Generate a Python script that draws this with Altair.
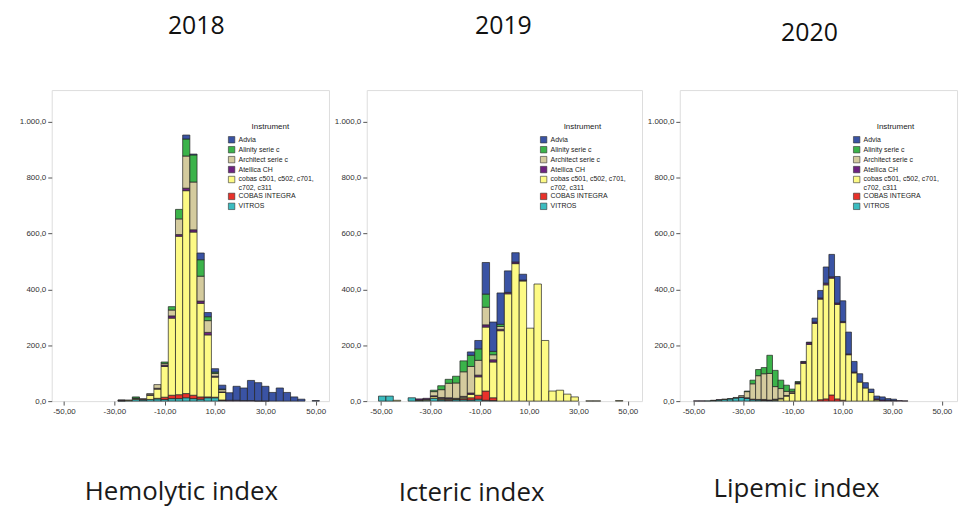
import altair as alt
import pandas as pd

INSTRUMENTS = ["Advia", "Alinity serie c", "Architect serie c", "Atellica CH",
               "cobas c501, c502, c701, c702, c311", "COBAS INTEGRA", "VITROS"]
COLORS = ["#3a53a4", "#3bb34a", "#d4cb9e", "#6e2281", "#fdfa85", "#e8312a", "#3bbcc0"]

# ---------------- 2018 - Hemolytic index ----------------
H_BIN_WIDTH = 2.857
H_EDGES = [-28.57, -25.71, -22.86, -20.0, -17.14, -14.29, -11.43, -8.57, -5.71, -2.86,
           0.0, 2.86, 5.71, 8.57, 11.43, 14.29, 17.14, 20.0, 22.86, 25.71,
           28.57, 31.43, 34.29, 37.14, 40.0, 42.86, 45.71, 48.57]
H_ADVIA = [0, 0, 0, 0, 0, 0, 0, 0, 0, 14, 3, 24, 15, 12, 14, 27, 50, 45, 72, 65, 52, 31, 47, 31, 15, 7, 0, 2]
H_ALINITY = [0, 0, 4, 0, 0, 0, 5, 12, 34, 61, 97, 59, 14, 5, 2, 0, 0, 0, 0, 0, 0, 0, 0, 0, 0, 0, 0, 0]
H_ARCHITECT = [0, 0, 2, 0, 4, 13, 6, 21, 56, 115, 171, 89, 42, 10, 8, 0, 0, 0, 0, 0, 0, 0, 0, 0, 0, 0, 0, 0]
H_ATELLICA = [1, 0, 0, 1, 2, 3, 5, 8, 6, 9, 8, 8, 9, 3, 2, 3, 3, 2, 2, 1, 1, 0, 0, 0, 0, 0, 0, 0]
H_COBAS = [2, 2, 3, 3, 15, 33, 110, 276, 567, 726, 584, 335, 222, 72, 27, 0, 0, 0, 0, 0, 0, 0, 0, 0, 0, 0, 0, 0]
H_INTEGRA = [0, 0, 0, 0, 0, 2, 8, 12, 14, 15, 12, 8, 3, 2, 1, 0, 0, 0, 0, 0, 0, 0, 0, 0, 0, 0, 0, 0]
H_VITROS = [1, 2, 6, 4, 6, 8, 6, 9, 9, 12, 9, 7, 12, 12, 3, 0, 0, 0, 0, 0, 0, 0, 0, 0, 0, 0, 0, 0]

# ---------------- 2019 - Icteric index ----------------
I_BIN_WIDTH = 3.0
I_EDGES = [-51, -48, -45, -42, -39, -36, -33, -30, -27, -24, -21, -18, -15, -12, -9, -6, -3,
           0, 3, 6, 9, 12, 15, 18, 21, 24, 27, 30, 33, 36, 39, 42, 45]
I_ADVIA = [0, 0, 0, 0, 0, 0, 0, 0, 0, 0, 0, 0, 12, 30, 113, 105, 112, 77, 33, 21, 0, 0, 0, 0, 0, 0, 0, 0, 0, 0, 0, 0, 0]
I_ALINITY = [0, 0, 0, 0, 0, 0, 0, 5, 14, 14, 24, 39, 40, 41, 47, 12, 8, 0, 0, 0, 0, 0, 0, 0, 0, 0, 0, 0, 0, 0, 0, 0, 0]
I_ARCHITECT = [0, 0, 0, 0, 0, 0, 0, 15, 28, 52, 55, 88, 95, 53, 63, 18, 10, 0, 0, 0, 0, 0, 0, 0, 0, 0, 0, 0, 0, 0, 0, 0, 0]
I_ATELLICA = [0, 0, 0, 0, 0, 4, 4, 3, 3, 3, 2, 3, 5, 6, 8, 8, 5, 5, 6, 3, 0, 0, 0, 0, 0, 0, 0, 0, 0, 0, 0, 0, 0]
I_COBAS = [0, 0, 3, 0, 0, 2, 3, 6, 4, 3, 2, 5, 12, 66, 229, 128, 252, 384, 492, 430, 261, 419, 217, 36, 39, 25, 15, 0, 1, 1, 0, 0, 2]
I_INTEGRA = [0, 0, 0, 0, 0, 0, 0, 0, 2, 3, 1, 4, 8, 14, 33, 10, 0, 0, 0, 0, 0, 0, 0, 0, 0, 0, 0, 0, 0, 0, 0, 0, 0]
I_VITROS = [18, 18, 0, 0, 12, 2, 3, 10, 4, 3, 5, 5, 4, 7, 3, 2, 0, 0, 0, 0, 0, 0, 0, 0, 0, 0, 0, 0, 0, 0, 0, 0, 0]

# ---------------- 2020 - Lipemic index ----------------
L_BIN_WIDTH = 2.27
L_EDGES = [-49.94, -47.67, -45.4, -43.13, -40.86, -38.59, -36.32, -34.05, -31.78, -29.51,
           -27.24, -24.97, -22.7, -20.43, -18.16, -15.89, -13.62, -11.35, -9.08, -6.81,
           -4.54, -2.27, 0.0, 2.27, 4.54, 6.81, 9.08, 11.35, 13.62, 15.89,
           18.16, 20.43, 22.7, 24.97, 27.24, 29.51, 31.78, 34.05]
L_ADVIA = [0, 0, 0, 0, 0, 0, 0, 0, 0, 0, 0, 0, 0, 0, 0, 0, 0, 0, 0, 2,
           2, 14, 27, 58, 80, 95, 74, 78, 38, 30, 19, 12, 10, 11, 6, 5, 0, 0]
L_ALINITY = [0, 0, 0, 0, 0, 0, 0, 0, 0, 2, 13, 22, 22, 65, 58, 30, 22, 8, 3, 0,
             0, 0, 0, 0, 0, 0, 0, 0, 0, 0, 0, 0, 0, 0, 0, 0, 0, 0]
L_ARCHITECT = [0, 0, 0, 0, 0, 0, 1, 2, 5, 22, 55, 85, 92, 95, 45, 35, 15, 5, 2, 0,
               0, 0, 0, 0, 0, 0, 0, 0, 0, 0, 0, 0, 0, 0, 0, 0, 0, 0]
L_ATELLICA = [1, 1, 0, 0, 1, 0, 0, 0, 1, 2, 2, 2, 2, 2, 2, 2, 2, 2, 3, 5,
              6, 5, 4, 6, 5, 5, 4, 3, 3, 0, 0, 0, 4, 4, 3, 2, 2, 1]
L_COBAS = [0, 0, 0, 1, 0, 1, 0, 0, 0, 0, 0, 0, 0, 0, 3, 8, 18, 28, 62, 135,
           203, 278, 360, 408, 418, 338, 278, 166, 101, 68, 47, 31, 4, 0, 0, 0, 0, 0]
L_INTEGRA = [0, 0, 0, 0, 0, 0, 0, 0, 0, 0, 0, 0, 1, 0, 0, 0, 0, 0, 0, 0,
             0, 0, 5, 8, 22, 8, 3, 0, 0, 0, 0, 0, 0, 0, 0, 0, 0, 0]
L_VITROS = [0, 0, 1, 2, 4, 6, 8, 11, 14, 10, 5, 4, 3, 2, 2, 0, 0, 0, 0, 0,
            0, 0, 0, 0, 0, 0, 0, 0, 0, 0, 0, 0, 0, 0, 0, 0, 0, 0]

TITLES = ["2018", "2019", "2020"]
X_TITLES = ["Hemolytic index", "Icteric index", "Lipemic index"]
X_TICKS = [-50, -30, -10, 10, 30, 50]
Y_TICKS = [0, 200, 400, 600, 800, 1000]


def build_df(edges, width, series):
    """Long table with stacked bottoms/tops; VITROS at the bottom, Advia on top."""
    rows = []
    for i, e in enumerate(edges):
        base = 0
        for inst, counts in reversed(list(zip(INSTRUMENTS, series))):
            c = counts[i]
            if c > 0:
                rows.append({"start": e, "end": round(e + width, 3), "instrument": inst,
                             "count": c, "bottom": base, "top": base + c})
            base += c
    return pd.DataFrame(rows)


Y_LABEL = "replace(replace(replace(format(datum.value, ',.1f'), ',', '#'), '.', ','), '#', '.')"
X_LABEL = "(datum.value < 0 ? '-' : '') + replace(format(abs(datum.value), '.2f'), '.', ',')"
LEG_LABEL = ("datum.label == 'cobas c501, c502, c701, c702, c311' ? "
             "['cobas c501, c502, c701,', 'c702, c311'] : datum.label")


def panel(df, domain, width, title, t_offset, t_dx, xtitle, xt_x, xt_y, leg_x, leg_y):
    return alt.Chart(df).mark_bar(stroke="#222222", strokeWidth=0.7).encode(
        x=alt.X("start:Q",
                scale=alt.Scale(domain=domain, nice=False, zero=False),
                axis=alt.Axis(values=X_TICKS, labelExpr=X_LABEL, title=xtitle,
                              titleX=xt_x, titleY=xt_y, titleBaseline="alphabetic",
                              titleFont="Open Sans", titleFontSize=26, titleFontWeight="normal",
                              titleColor="#1a1a1a", domain=False, grid=False, tickSize=4,
                              tickColor="#555555", labelFont="Liberation Sans", labelFontSize=8,
                              labelColor="#333333", labelPadding=2)),
        x2="end",
        y=alt.Y("bottom:Q",
                scale=alt.Scale(domain=[0, 1113], nice=False),
                axis=alt.Axis(values=Y_TICKS, labelExpr=Y_LABEL, title=None, domain=False,
                              grid=False, tickSize=4, tickColor="#555555",
                              labelFont="Liberation Sans", labelFontSize=8,
                              labelColor="#333333", labelPadding=2)),
        y2="top",
        color=alt.Color("instrument:N",
                        scale=alt.Scale(domain=INSTRUMENTS, range=COLORS),
                        legend=alt.Legend(title="Instrument", orient="none",
                                          legendX=leg_x, legendY=leg_y, padding=0,
                                          titleFont="Liberation Sans", titleFontSize=8,
                                          titleFontWeight="normal", titleColor="#222222",
                                          titleAnchor="middle", titlePadding=5,
                                          labelFont="Liberation Sans", labelFontSize=7,
                                          labelColor="#222222", labelExpr=LEG_LABEL,
                                          labelOffset=3, labelLimit=200,
                                          symbolType="square", symbolSize=42,
                                          symbolStrokeColor="#333333", symbolStrokeWidth=0.6,
                                          rowPadding=0)),
        tooltip=["instrument:N", "count:Q"],
    ).properties(
        width=width, height=313,
        title=alt.TitleParams(title, font="Open Sans", fontSize=25, fontWeight="normal",
                              color="#111111", anchor="middle", offset=t_offset, dx=t_dx),
    )


p1 = panel(build_df(H_EDGES, H_BIN_WIDTH,
                    [H_ADVIA, H_ALINITY, H_ARCHITECT, H_ATELLICA, H_COBAS, H_INTEGRA, H_VITROS]),
           [-54.86, 55.25], 279, TITLES[0], 51, 6, X_TITLES[0], 130, 99, 177, 33)
p2 = panel(build_df(I_EDGES, I_BIN_WIDTH,
                    [I_ADVIA, I_ALINITY, I_ARCHITECT, I_ATELLICA, I_COBAS, I_INTEGRA, I_VITROS]),
           [-55.76, 55.76], 277, TITLES[1], 51, -1, X_TITLES[1], 105, 100, 174, 33)
p3 = panel(build_df(L_EDGES, L_BIN_WIDTH,
                    [L_ADVIA, L_ALINITY, L_ARCHITECT, L_ATELLICA, L_COBAS, L_INTEGRA, L_VITROS]),
           [-55.48, 56.12], 279, TITLES[2], 44, -9, X_TITLES[2], 117, 96, 174, 33)

chart = alt.hconcat(p1, p2, p3, spacing=38, bounds="flush").resolve_scale(
    x="independent"
).resolve_legend(color="independent").properties(
    padding={"left": 10, "top": 4, "right": 5, "bottom": 4}
).configure_view(stroke="#8a8a8a", strokeWidth=1).configure(background="white")

chart.save("out.html", embed_options={"renderer": "svg", "actions": False})
